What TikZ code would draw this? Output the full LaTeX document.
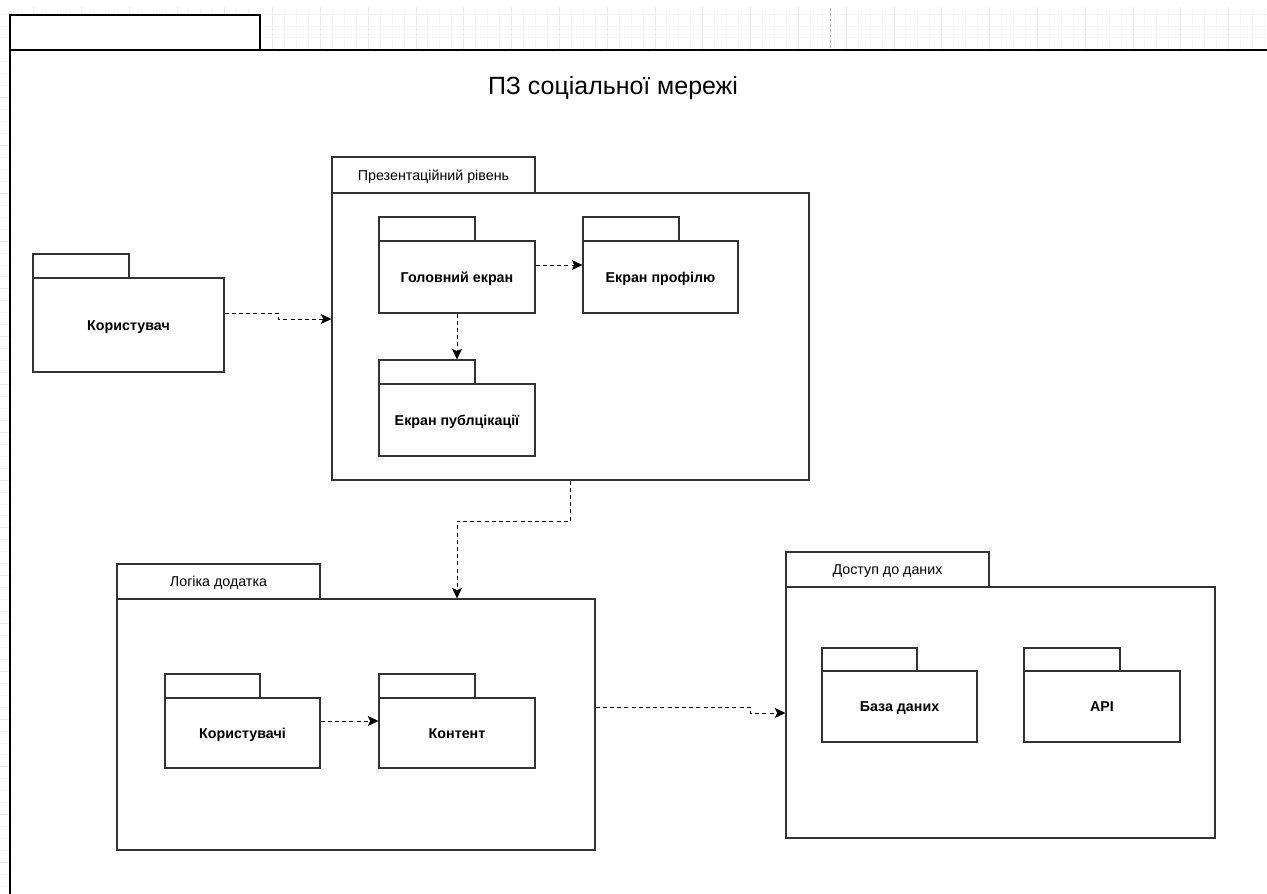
\documentclass[tikz,border=0pt]{standalone}
\usepackage{fontspec}
\setmainfont{Liberation Sans}
\usetikzlibrary{fit,arrows.meta}
\definecolor{edge}{HTML}{333333}
\begin{document}
\begin{tikzpicture}[x=0.75pt,y=-0.75pt,
  frameline/.style={draw=black,line width=1.1pt},
  pkgtab/.style={draw=edge,fill=white,line width=0.8pt,inner sep=0pt},
  pkgbody/.style={draw=edge,fill=white,line width=0.8pt,inner sep=0pt},
  tabtext/.style={font=\fontsize{10.7}{12}\selectfont,anchor=base},
  bodytext/.style={font=\bfseries\fontsize{10.7}{12}\selectfont,anchor=base},
  dep/.style={draw=black,line width=0.75pt,dash pattern=on 3pt off 2.4pt,
    -{Stealth[length=8pt,width=7.5pt,inset=1.8pt]}},
  gridminor/.style={draw=black!4,line width=0.6pt},
  gridmajor/.style={draw=black!9,line width=0.6pt}]
\useasboundingbox (0,0) rectangle (1267,893);

% editor grid visible around the frame
\begin{scope}
  \clip (0,7) rectangle (1267,50);
  \foreach \k in {-3,...,103} \draw[gridminor] ({33.5+11.95*\k},7) -- ({33.5+11.95*\k},50);
  \foreach \k in {-1,...,26} \draw[gridmajor] ({33.5+47.8*\k},7) -- ({33.5+47.8*\k},50);
  \foreach \k in {1,2,3} \draw[gridminor] (0,{2+11.95*\k}) -- (1267,{2+11.95*\k});
\end{scope}
\begin{scope}
  \clip (0,50) rectangle (9,893);
  \foreach \k in {4,...,75} \draw[gridminor] (0,{2+11.95*\k}) -- (9,{2+11.95*\k});
  \foreach \k in {1,...,18} \draw[gridmajor] (0,{2+47.8*\k}) -- (9,{2+47.8*\k});
\end{scope}
\draw[black!30,line width=0.6pt,dash pattern=on 2pt off 2pt] (830,8) -- (830,50);

% outer frame
\node[draw=black,fill=white,line width=1.1pt,inner sep=0pt,fit={(10,15) (260,50)}] (frameT) {};
\draw[frameline] (1268,50) -- (10,50) -- (10,894);
\node[font=\fontsize{18.7}{22}\selectfont,anchor=base] (title) at (613,94) {ПЗ соціальної мережі};

% user package
\node[pkgtab,fit={(33,254) (129,278)}] (usrT) {};
\node[pkgbody,fit={(33,278) (224,372)}] (usr) {};
\node[bodytext] (usrL) at ([yshift=-3.8pt]usr.center) {Користувач};

% presentation layer
\node[pkgtab,fit={(332,157) (535,193)}] (presT) {};
\node[tabtext] (presL) at ([yshift=-3.8pt]presT.center) {Презентаційний рівень};
\node[pkgbody,fit={(332,193) (809,480)}] (pres) {};
\node[pkgtab,fit={(379,217) (475,241)}] (mainT) {};
\node[pkgbody,fit={(379,241) (535,313)}] (main) {};
\node[bodytext] (mainL) at ([yshift=-3.8pt]main.center) {Головний екран};
\node[pkgtab,fit={(583,217) (679,241)}] (profT) {};
\node[pkgbody,fit={(583,241) (738,313)}] (prof) {};
\node[bodytext] (profL) at ([yshift=-3.8pt]prof.center) {Екран профілю};
\node[pkgtab,fit={(379,360) (475,384)}] (pubT) {};
\node[pkgbody,fit={(379,384) (535,456)}] (pub) {};
\node[bodytext] (pubL) at ([yshift=-3.8pt]pub.center) {Екран публцікації};

% application logic
\node[pkgtab,fit={(117,564) (320,599)}] (logicT) {};
\node[tabtext] (logicL) at ([yshift=-3.8pt]logicT.center) {Логіка додатка};
\node[pkgbody,fit={(117,599) (595,850)}] (logic) {};
\node[pkgtab,fit={(165,674) (260,698)}] (usersT) {};
\node[pkgbody,fit={(165,698) (320,768)}] (users) {};
\node[bodytext] (usersL) at ([yshift=-3.8pt]users.center) {Користувачі};
\node[pkgtab,fit={(379,674) (475,698)}] (contentT) {};
\node[pkgbody,fit={(379,698) (535,768)}] (content) {};
\node[bodytext] (contentL) at ([yshift=-3.8pt]content.center) {Контент};

% data access
\node[pkgtab,fit={(786,552) (989,587)}] (dataT) {};
\node[tabtext] (dataL) at ([yshift=-3.8pt]dataT.center) {Доступ до даних};
\node[pkgbody,fit={(786,587) (1215,838)}] (data) {};
\node[pkgtab,fit={(822,648) (917,671)}] (dbT) {};
\node[pkgbody,fit={(822,671) (977,742)}] (db) {};
\node[bodytext] (dbL) at ([yshift=-3.8pt]db.center) {База даних};
\node[pkgtab,fit={(1024,648) (1120,671)}] (apiT) {};
\node[pkgbody,fit={(1024,671) (1180,742)}] (api) {};
\node[bodytext] (apiL) at ([yshift=-3.8pt]api.center) {API};

% dependencies
\draw[dep] (usr.east |- 0,313) -| (278,319) -- (pres.west |- 0,319);
\draw[dep] (main.east |- 0,265) -- (prof.west |- 0,265);
\draw[dep] (main.south) -- (pubT.north -| main.south);
\draw[dep] (pres.south) |- (457,521) -- (logic.north -| 457,0);
\draw[dep] (users.east |- 0,721) -- (content.west |- 0,721);
\draw[dep] (logic.east |- 0,707) -| (750,713) -- (data.west |- 0,713);
\end{tikzpicture}
\end{document}
